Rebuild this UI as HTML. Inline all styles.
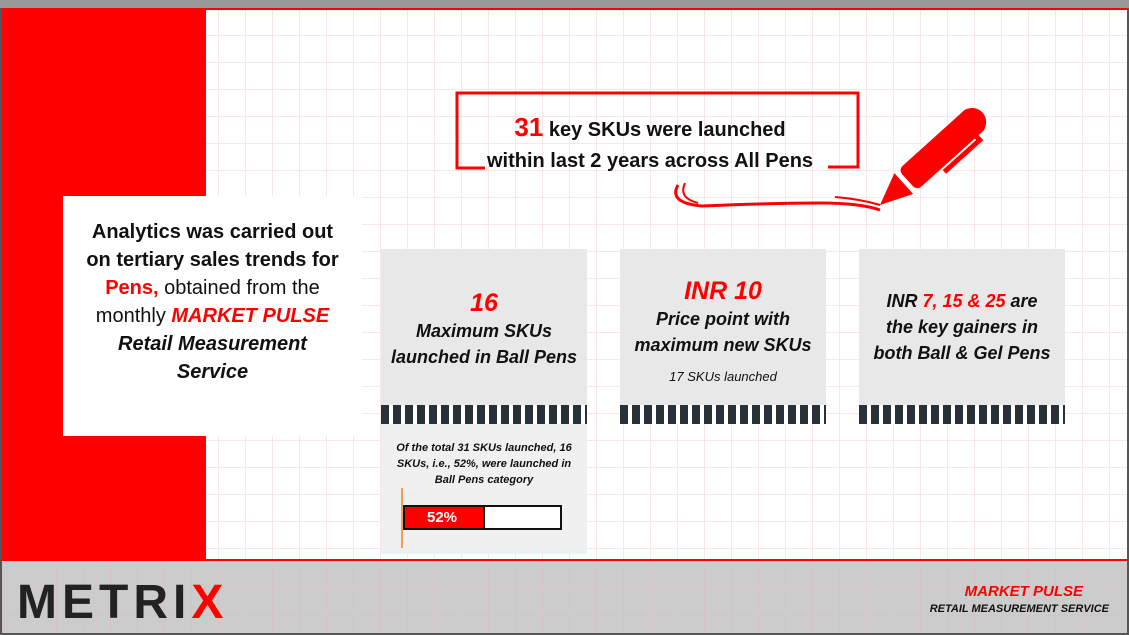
<!DOCTYPE html><html><head><meta charset="utf-8"><style>
*{margin:0;padding:0;box-sizing:border-box}
body{width:1129px;height:635px;overflow:hidden;position:relative;font-family:"Liberation Sans",sans-serif;background:#fff}
.grid{position:absolute;left:2px;top:8px;width:1125px;height:625px;background-image:linear-gradient(#fae6e6 1px,transparent 1px),linear-gradient(90deg,#fae6e6 1px,transparent 1px);background-size:27px 27px}
.abs{position:absolute}
.t{font-weight:bold;text-align:center;color:#111}
.r{color:#f00}
.i{font-style:italic}
.stripe{position:absolute;height:19px;background:repeating-linear-gradient(90deg,#263238 0 8px,#fff 8px 12px)}
</style></head><body>
<div class="grid"></div>
<div class="abs" style="left:0;top:0;width:1129px;height:635px;border:2px solid #555;border-top:0"></div>
<div class="abs" style="left:0;top:0;width:1129px;height:8px;background:#999"></div>
<div class="abs" style="left:2px;top:8px;width:1125px;height:2px;background:#f00"></div>
<div class="abs" style="left:2px;top:8px;width:204px;height:552px;background:#f00"></div>
<div class="abs" style="left:2px;top:559px;width:1125px;height:2px;background:#f00"></div>
<div class="abs" style="left:2px;top:561px;width:1125px;height:72px;background:#ccc;background-image:linear-gradient(#d6c4c4 1px,transparent 1px),linear-gradient(90deg,#d6c4c4 1px,transparent 1px);background-size:27px 27px"></div>
<div class="abs" style="left:0;top:633px;width:1129px;height:2px;background:#555"></div>
<div class="abs" style="left:17px;top:578px;font-size:48px;font-weight:bold;letter-spacing:5px;color:#222;line-height:50px">METRI<span class="r">X</span></div>
<div class="abs i" style="right:46px;top:583px;font-size:15px;font-weight:bold;color:#f00">MARKET PULSE</div>
<div class="abs i" style="right:20px;top:603px;font-size:11px;font-weight:bold;color:#111">RETAIL MEASUREMENT SERVICE</div>

<div class="abs t" style="left:63px;top:196px;width:299px;height:240px;background:#fff;padding-top:22px;font-size:20px;line-height:28px">Analytics was carried out<br>on tertiary sales trends for<br><span class="r">Pens,</span> <span style="font-weight:normal">obtained from the</span><br><span style="font-weight:normal">monthly</span> <span class="r i">MARKET PULSE</span><br><span class="i">Retail Measurement<br>Service</span></div>

<svg class="abs" style="left:440px;top:85px" width="560" height="130">
<path d="M45 83 L17 83 L17 8 L418 8 L418 82 L388 82" fill="none" stroke="#f00" stroke-width="3"/>
<path d="M238 100 Q 228 118 262 121 Q 330 118 380 118 Q 420 118 440 125" fill="none" stroke="#f00" stroke-width="3"/>
<path d="M245 98 Q 238 113 258 118" fill="none" stroke="#f00" stroke-width="2"/>
<path d="M395 112 Q 420 114 440 120" fill="none" stroke="#f00" stroke-width="2"/>
<g transform="translate(440,120) rotate(-42)">
<polygon points="0,0 32,-14 32,14" fill="#f00"/>
<rect x="37" y="-14" width="95" height="28" rx="6" fill="#f00"/>
<circle cx="124" cy="0" r="14" fill="#f00"/>
<rect x="70" y="16" width="50" height="5" fill="#f00"/>
<rect x="115" y="12" width="5" height="8" fill="#f00"/>
</g>
</svg>
<div class="abs t" style="left:470px;top:112px;width:360px;font-size:20px;line-height:31px"><span class="r" style="font-size:26px">31</span> key SKUs were launched<br>within last 2 years across All Pens</div>

<div class="abs" style="left:381px;top:249px;width:206px;height:156px;background:#e8e8e8"></div>
<div class="abs" style="left:620px;top:249px;width:206px;height:156px;background:#e8e8e8"></div>
<div class="abs" style="left:859px;top:249px;width:206px;height:156px;background:#e8e8e8"></div>
<div class="stripe" style="left:381px;top:405px;width:206px"></div>
<div class="stripe" style="left:620px;top:405px;width:206px"></div>
<div class="stripe" style="left:859px;top:405px;width:206px"></div>
<div class="abs" style="left:381px;top:424px;width:206px;height:130px;background:#f0f0f0"></div>

<div class="abs t i" style="left:381px;top:290px;width:206px;font-size:18px;line-height:26px"><span class="r" style="font-size:25px">16</span><br>Maximum SKUs<br>launched in Ball Pens</div>
<div class="abs t i" style="left:620px;top:278px;width:206px;font-size:18px;line-height:26px"><span class="r" style="font-size:25px">INR 10</span><br>Price point with<br>maximum new SKUs</div>
<div class="abs t i" style="left:620px;top:369px;width:206px;font-size:13px;font-weight:normal">17 SKUs launched</div>
<div class="abs t i" style="left:859px;top:288px;width:206px;font-size:18px;line-height:26px">INR <span class="r">7, 15 &amp; 25</span> are<br>the key gainers in<br>both Ball &amp; Gel Pens</div>

<div class="abs t i" style="left:381px;top:440px;width:206px;font-size:11px;line-height:16px">Of the total 31 SKUs launched, 16<br>SKUs, i.e., 52%, were launched in<br>Ball Pens category</div>
<div class="abs" style="left:401px;top:488px;width:2px;height:60px;background:#f0a050"></div>
<div class="abs" style="left:403px;top:505px;width:159px;height:25px;border:2px solid #111;background:#fff"></div>
<div class="abs" style="left:405px;top:507px;width:80px;height:21px;background:#f00;border-right:2px solid #111;color:#fff;font-weight:bold;font-size:15px;line-height:21px;padding-left:22px">52%</div>
</body></html>
